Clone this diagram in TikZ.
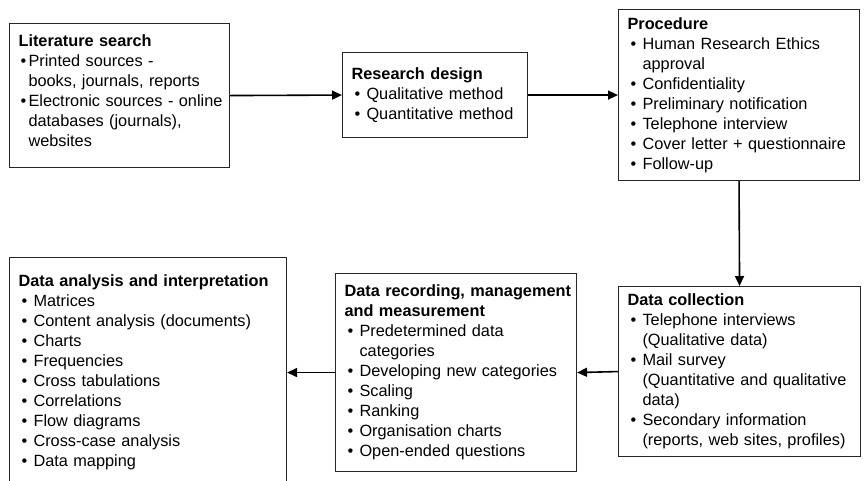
\documentclass[tikz,border=0pt]{standalone}
\usepackage{fontspec}
\setmainfont{Liberation Sans}
\usetikzlibrary{arrows.meta}

% bullet with the item text starting 15pt in
\newcommand{\bl}{\makebox[15pt][l]{\hspace{3pt}\textbullet}}
\newcommand{\ind}{\hspace*{15pt}}
% lines of a box, broken by hand only
\newcommand{\boxlines}[1]{\begin{tabular}{@{}l@{}}#1\end{tabular}}

\tikzset{
  stage/.style={draw=black!85, line width=1.1pt, fill=white, anchor=north west,
    inner xsep=9pt, inner ysep=0pt, align=left,
    font=\fontsize{16.3}{20}\selectfont},
  flow/.style={line width=1.6pt, -{Triangle[length=10pt,width=9pt]}}
}

\begin{document}
\begin{tikzpicture}[x=1pt,y=-1pt]
		\useasboundingbox (0,0) rectangle (866,480);
		% Top row
		\node[stage, text width=202pt, minimum height=144pt] (lit) at (9,23)
			{\boxlines{\textbf{Literature search}\\
			 \makebox[10pt][l]{\hspace{2pt}\textbullet}Printed sources -\\
			 \hspace*{10pt}books, journals, reports\\
			 \makebox[10pt][l]{\hspace{2pt}\textbullet}Electronic sources - online\\
			 \hspace*{10pt}databases (journals),\\
			 \hspace*{10pt}websites\\[6pt]}};
		\node[stage, text width=167pt, minimum height=85pt] (design) at (342,52)
			{\boxlines{\textbf{Research design}\\
			 \bl Qualitative method\\
			 \bl Quantitative method}};
		\node[stage, text width=223pt, minimum height=171pt] (proc) at (618,9)
			{\boxlines{\textbf{Procedure}\\
			 \bl Human Research Ethics\\
			 \ind approval\\
			 \bl Confidentiality\\
			 \bl Preliminary notification\\
			 \bl Telephone interview\\
			 \bl Cover letter + questionnaire\\
			 \bl Follow-up}};
		% Bottom row
		\node[stage, text width=224pt, minimum height=170pt] (collect) at (618,286)
			{\boxlines{\textbf{Data collection}\\
			 \bl Telephone interviews\\
			 \ind (Qualitative data)\\
			 \bl Mail survey\\
			 \ind (Quantitative and qualitative\\
			 \ind data)\\
			 \bl Secondary information\\
			 \ind (reports, web sites, profiles)}};
		\node[stage, text width=223pt, minimum height=198pt] (record) at (335,273)
			{\boxlines{\textbf{Data recording, management}\\
			 \textbf{and measurement}\\
			 \bl Predetermined data\\
			 \ind categories\\
			 \bl Developing new categories\\
			 \bl Scaling\\
			 \bl Ranking\\
			 \bl Organisation charts\\
			 \bl Open-ended questions}};
		\node[stage, text width=259pt, minimum height=230pt] (analysis) at (9,257)
			{\boxlines{\textbf{Data analysis and interpretation}\\
			 \bl Matrices\\
			 \bl Content analysis (documents)\\
			 \bl Charts\\
			 \bl Frequencies\\
			 \bl Cross tabulations\\
			 \bl Correlations\\
			 \bl Flow diagrams\\
			 \bl Cross-case analysis\\
			 \bl Data mapping}};
		% Arrows
		\draw[flow] (lit.east) -- (design.west);
		\draw[flow] (design.east) -- (proc.west);
		\draw[flow] (proc.south) -- (collect.north);
		\draw[flow] (collect.west) -- (record.east);
		\draw[flow] (record.west) -- (analysis.east);
\end{tikzpicture}
\end{document}
